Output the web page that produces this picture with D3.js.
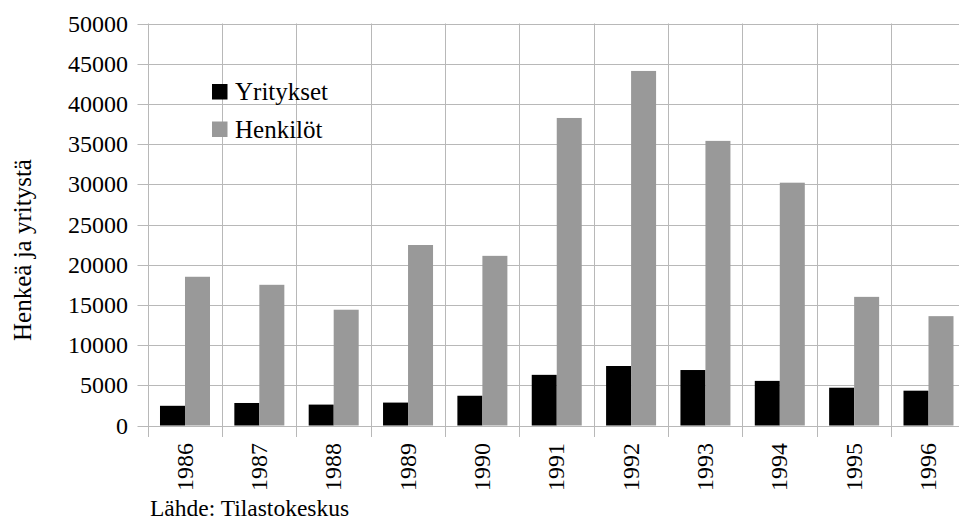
<!DOCTYPE html>
<html>
<head>
<meta charset="utf-8">
<script src="https://cdn.jsdelivr.net/npm/d3@7"></script>
<style>
  html, body { margin: 0; padding: 0; background: #fff; }
  svg { display: block; font-family: "Liberation Serif", "Times New Roman", serif; }
</style>
</head>
<body>
<svg id="chart" width="959" height="521"></svg>
<script>
// Yritysten ja henkilöiden määrä vuosittain
const years = ["1986","1987","1988","1989","1990","1991","1992","1993","1994","1995","1996"];
const seriesNames = ["Yritykset", "Henkilöt"];
const yritykset = [2450, 2800, 2600, 2850, 3700, 6300, 7400, 6900, 5550, 4700, 4330];
const henkilot  = [18500, 17500, 14400, 22450, 21100, 38250, 44100, 35400, 30200, 16000, 13600];
const yTicks = [0, 5000, 10000, 15000, 20000, 25000, 30000, 35000, 40000, 45000, 50000];
const seriesColors = ["#000000", "#999999"];

const svg = d3.select("#chart");
const plotLeft = 147.5, plotTop = 23.5, plotBottom = 425.5, catW = 74.35;
const plotRight = plotLeft + catW * years.length;

const y = d3.scaleLinear().domain([0, 50000]).range([plotBottom, plotTop]);
const x0 = d3.scaleBand().domain(years).range([plotLeft, plotRight]).padding(0);
const bw = x0.bandwidth();
const x1 = d3.scaleBand().domain(seriesNames).range([bw * 0.168, bw * 0.168 + bw * 0.6725]).padding(0);
const color = d3.scaleOrdinal().domain(seriesNames).range(seriesColors);

const grid = "#b8b8b8";

// horizontal gridlines with left ticks
svg.append("g").selectAll("line").data(yTicks).join("line")
  .attr("x1", plotLeft - 10).attr("x2", plotRight)
  .attr("y1", d => Math.round(y(d)) + 0.5).attr("y2", d => Math.round(y(d)) + 0.5)
  .attr("stroke", grid).attr("stroke-width", 1);

// vertical gridlines at category boundaries, extending below as ticks
const bounds = years.map(d => x0(d)).concat([plotRight]);
svg.append("g").selectAll("line").data(bounds).join("line")
  .attr("x1", d => Math.round(d) + 0.5).attr("x2", d => Math.round(d) + 0.5)
  .attr("y1", plotTop).attr("y2", plotBottom + 11.5)
  .attr("stroke", grid).attr("stroke-width", 1);

// y tick labels
svg.append("g").selectAll("text").data(yTicks).join("text")
  .attr("x", 128).attr("y", d => y(d)).attr("dy", "0.34em")
  .attr("text-anchor", "end").attr("font-size", 24).attr("fill", "#000")
  .text(d => d);

// bars
const rows = years.map((yr, i) => ({ year: yr, values: [yritykset[i], henkilot[i]] }));
svg.append("g").selectAll("g").data(rows).join("g")
  .attr("transform", d => `translate(${x0(d.year)},0)`)
  .selectAll("rect").data(d => seriesNames.map((s, j) => ({ s, v: d.values[j] }))).join("rect")
  .attr("x", d => x1(d.s)).attr("width", x1.bandwidth())
  .attr("y", d => y(d.v)).attr("height", d => y(0) - y(d.v))
  .attr("fill", d => color(d.s));

// x labels, rotated
svg.append("g").selectAll("text").data(years).join("text")
  .attr("transform", d => `translate(${x0(d) + bw / 2},443) rotate(-90)`)
  .attr("dy", "0.33em").attr("text-anchor", "end")
  .attr("font-size", 24).attr("fill", "#000")
  .text(d => d);

// y axis title
svg.append("text")
  .attr("transform", "translate(23,250) rotate(-90)")
  .attr("dy", "0.33em").attr("text-anchor", "middle")
  .attr("font-size", 25).attr("fill", "#000")
  .text("Henkeä ja yritystä");

// legend
const legend = svg.append("g").selectAll("g").data(seriesNames).join("g")
  .attr("transform", (d, i) => `translate(212,${84 + i * 37.5})`);
legend.append("rect").attr("width", 15.5).attr("height", 15.5).attr("fill", d => color(d));
legend.append("text").attr("x", 23).attr("y", 16).attr("font-size", 25).attr("fill", "#000").text(d => d);

// source
svg.append("text").attr("x", 150).attr("y", 516).attr("font-size", 23.5).attr("fill", "#000")
  .text("Lähde: Tilastokeskus");
</script>
</body>
</html>
